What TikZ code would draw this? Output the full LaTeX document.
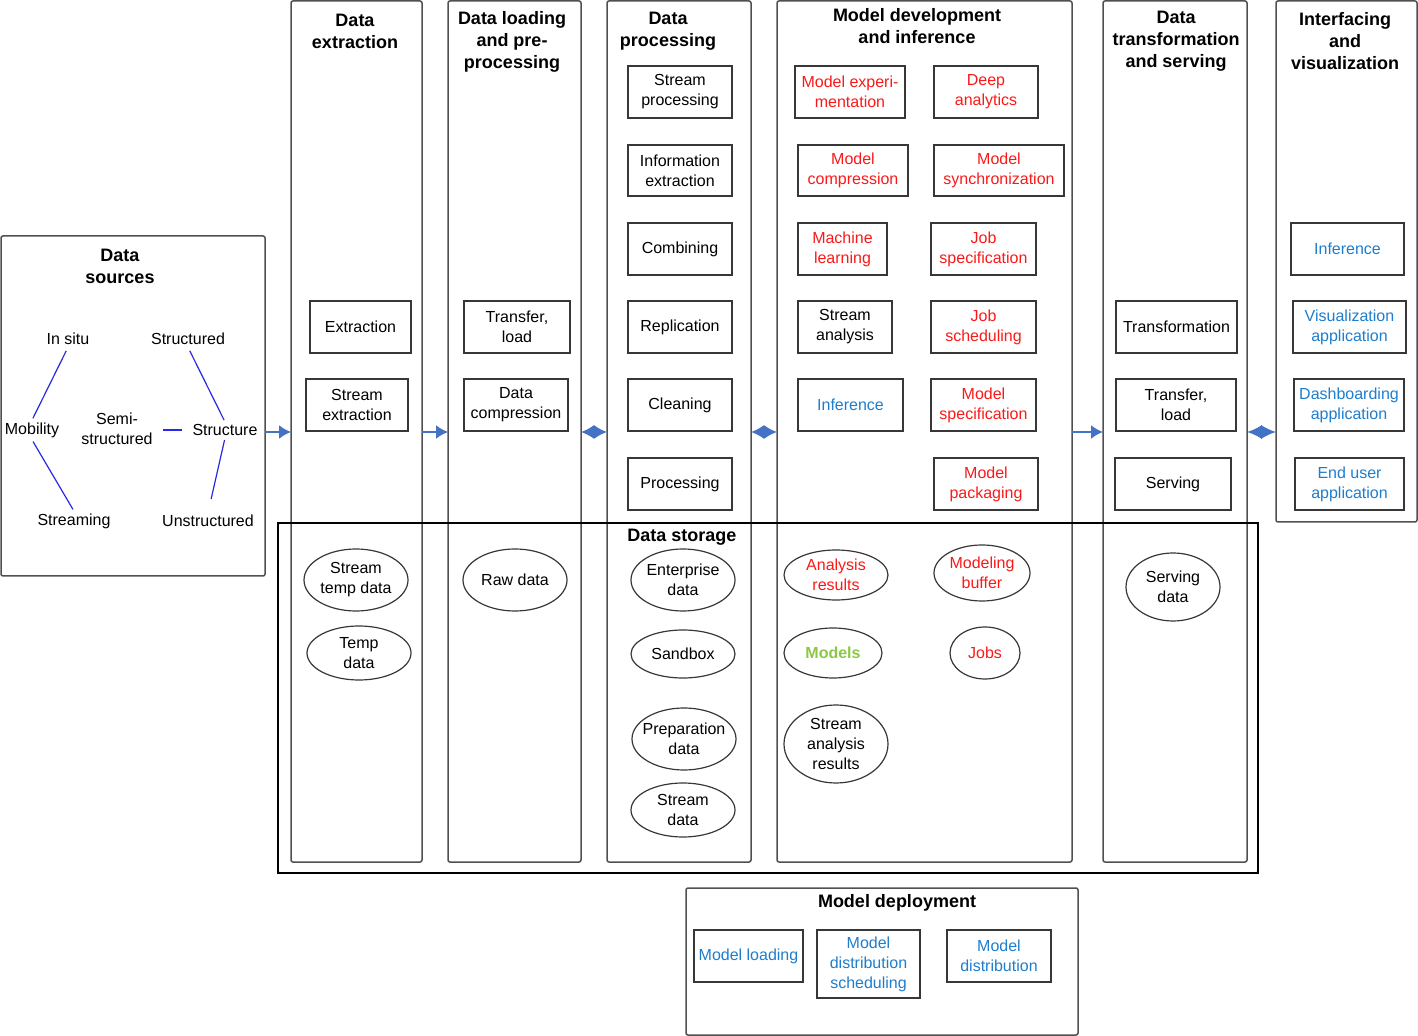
\documentclass[tikz,border=0pt]{standalone}
\usepackage{fontspec}
\setmainfont{Liberation Sans}
\usetikzlibrary{shapes.geometric,arrows.meta}

\definecolor{framegray}{RGB}{80,80,80}
\definecolor{boxgray}{RGB}{55,55,55}
\definecolor{flowblue}{RGB}{68,114,196}
\definecolor{linkblue}{RGB}{40,40,235}
\definecolor{txtred}{RGB}{250,25,25}
\definecolor{txtblue}{RGB}{30,125,205}
\definecolor{txtgreen}{RGB}{140,200,70}

\tikzset{
	colframe/.style={draw=framegray, line width=0.75pt, rounded corners=1pt, inner sep=0pt, outer sep=0pt},
	coltitle/.style={font=\fontsize{9}{11}\selectfont\bfseries, align=center, inner sep=0pt},
	procbox/.style={draw=boxgray, line width=0.6pt, align=center, inner sep=0pt, outer sep=0pt, font=\fontsize{8}{10}\selectfont},
	storeitem/.style={ellipse, draw=boxgray, line width=0.6pt, align=center, inner ysep=0pt, inner xsep=-2.5pt, outer sep=0pt, font=\fontsize{8}{10}\selectfont},
	srclabel/.style={font=\fontsize{8}{10}\selectfont, align=center, inner sep=1pt},
	flow/.style={draw=flowblue, line width=0.9pt, -{Latex[length=6pt,width=7pt]}},
	flowboth/.style={draw=flowblue, line width=0.9pt, {Latex[length=#1,width=7pt]}-{Latex[length=#1,width=7pt]}},
	flowboth/.default=6.5pt,
	link/.style={draw=linkblue, line width=0.6pt},
}

\begin{document}
\begin{tikzpicture}[x=0.5pt,y=-0.5pt]
	\def\u{0.5pt}
	\useasboundingbox (0,0) rectangle (1418,1036);

	% Frames of the stages
	\foreach \nm/\xa/\ya/\xb/\yb in {sources/1/236/265/576, extract/291/1/422/862,
		loading/448/1/581/862, processing/607/1/751/862, modeldev/777/1/1072/862,
		transform/1103/1/1247/862, interfacing/1276/1/1417/522,
		storage/278/523/1258/873, deploy/686/888/1078/1035} {
		\node[colframe, minimum width=(\xb-\xa)*\u, minimum height=(\yb-\ya)*\u]
			(\nm) at ({(\xa+\xb)/2},{(\ya+\yb)/2}) {};
	}
	\node[colframe, draw=black, rounded corners=0pt, minimum width=980*\u, minimum height=350*\u] (storagebox) at (768,698) {};

	% Titles
	\node[coltitle] (tsources) at (120,266) {Data\\sources};
	\node[coltitle] (textract) at (355,31) {Data\\extraction};
	\node[coltitle] (tloading) at (512,42) {Data loading\\and pre-\\processing};
	\node[coltitle] (tprocessing) at (668,31) {Data\\processing};
	\node[coltitle] (tmodeldev) at (917,26) {Model development\\and inference};
	\node[coltitle] (ttransform) at (1176,41) {Data\\transformation\\and serving};
	\node[coltitle] (tinterfacing) at (1345,41) {Interfacing\\and\\visualization};
	\node[coltitle] (tstorage) at (682,537) {Data storage};
	\node[coltitle] (tdeploy) at (897,903) {Model deployment};

	% Boxes
	\foreach \nm/\xa/\ya/\xb/\yb/\col/\txt in {
		bext/310/301/411/353/black/{Extraction},
		bsext/306/379/408/431/black/{Stream\\extraction},
		btlone/464/301/570/353/black/{Transfer,\\load},
		bcomp/464/379/568/431/black/{Data\\compression},
		bstream/628/66/732/118/black/{Stream\\processing},
		binfo/628/145/732/196/black/{Information\\extraction},
		bcomb/628/223/732/275/black/{Combining},
		brepl/628/301/732/353/black/{Replication},
		bclean/628/379/732/431/black/{Cleaning},
		bproc/628/458/732/510/black/{Processing},
		bexp/795/66/905/118/txtred/{Model experi-\\mentation},
		bdeep/934/66/1038/118/txtred/{Deep\\analytics},
		bmcomp/798/145/908/196/txtred/{Model\\compression},
		bsync/934/145/1064/196/txtred/{Model\\synchronization},
		bml/798/223/887/275/txtred/{Machine\\learning},
		bjspec/931/223/1036/275/txtred/{Job\\specification},
		bsana/798/301/892/353/black/{Stream\\analysis},
		bjsched/931/301/1036/353/txtred/{Job\\scheduling},
		binfone/798/379/903/431/txtblue/{Inference},
		bmspec/931/379/1036/431/txtred/{Model\\specification},
		bpack/934/458/1038/510/txtred/{Model\\packaging},
		btrans/1116/301/1237/353/black/{Transformation},
		btltwo/1116/379/1236/431/black/{Transfer,\\load},
		bserv/1115/458/1231/510/black/{Serving},
		binftwo/1291/223/1404/275/txtblue/{Inference},
		bvis/1293/301/1406/353/txtblue/{Visualization\\application},
		bdash/1294/379/1404/431/txtblue/{Dashboarding\\application},
		bend/1295/458/1404/510/txtblue/{End user\\application},
		bload/694/930/803/982/txtblue/{Model loading},
		bdsched/817/930/920/998/txtblue/{Model\\distribution\\scheduling},
		bdist/947/930/1051/982/txtblue/{Model\\distribution}} {
		\node[procbox, text=\col, minimum width=(\xb-\xa)*\u, minimum height=(\yb-\ya)*\u]
			(\nm) at ({(\xa+\xb)/2},{(\ya+\yb)/2}) {\txt};
	}

	% Storage items
	\foreach \nm/\cx/\cy/\rx/\ry/\col/\txt in {
		estemp/356/580/52/31/black/{Stream\\temp data},
		etemp/359/653/52/27/black/{Temp\\data},
		eraw/515/580/52/31/black/{Raw data},
		eent/683/580/52/31/black/{Enterprise\\data},
		esand/683/654/52/24/black/{Sandbox},
		eprep/684/739/52/31/black/{Preparation\\data},
		esdata/683/810/52/27/black/{Stream\\data},
		eana/836/575/52/25/txtred/{Analysis\\results},
		ebuf/982/573/48/28/txtred/{Modeling\\buffer},
		emodels/833/653/49/25/txtgreen/{\textbf{Models}},
		ejobs/985/653/35/26/txtred/{Jobs},
		esar/836/744/52/39/black/{Stream\\analysis\\results},
		eserv/1173/587/47/34/black/{Serving\\data}} {
		\node[storeitem, text=\col, minimum width=2*\rx*\u, minimum height=2*\ry*\u]
			(\nm) at (\cx,\cy) {\txt};
	}

	% Data source properties
	\node[srclabel] (insitu) at (68,339) {In situ};
	\node[srclabel] (structured) at (188,339) {Structured};
	\node[srclabel] (mobility) at (32,430) {Mobility};
	\node[srclabel] (semi) at (117,429) {Semi-\\structured};
	\node[srclabel] (structure) at (225,430) {Structure};
	\node[srclabel] (streaming) at (74,521) {Streaming};
	\node[srclabel] (unstructured) at (208,521) {Unstructured};

	\draw[link, shorten <=2pt, shorten >=1pt] (insitu.south) -- (mobility.north);
	\draw[link, shorten <=1pt, shorten >=1pt] (mobility.south) -- (streaming.north);
	\draw[link, shorten <=2pt, shorten >=1pt] (structured.south) -- (structure.north);
	\draw[link, shorten <=1pt, shorten >=7pt] (structure.south) -- (unstructured.north);
	\draw[link, shorten <=4pt, shorten >=4pt] (semi.east |- structure) -- (structure.west);

	% Flow between stages
	\coordinate (flowy) at (0,432);
	\draw[flow] (sources.east |- flowy) -- (extract.west |- flowy);
	\draw[flow] (extract.east |- flowy) -- (loading.west |- flowy);
	\draw[flowboth] (loading.east |- flowy) -- (processing.west |- flowy);
	\draw[flowboth] (processing.east |- flowy) -- (modeldev.west |- flowy);
	\draw[flow] (modeldev.east |- flowy) -- (transform.west |- flowy);
	\draw[flowboth=7.4pt] (transform.east |- flowy) -- (interfacing.west |- flowy);
\end{tikzpicture}
\end{document}
